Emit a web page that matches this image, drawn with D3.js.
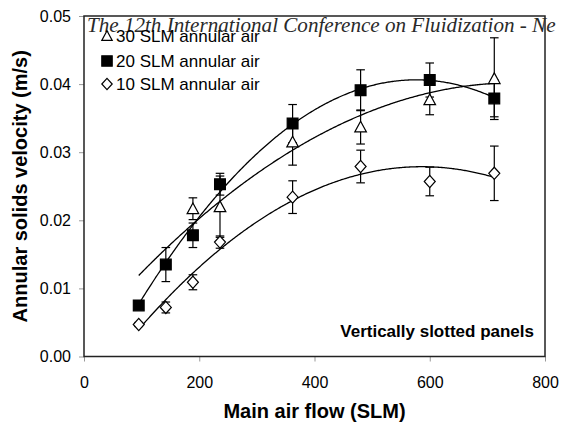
<!DOCTYPE html>
<html><head><meta charset="utf-8">
<script src="https://cdn.jsdelivr.net/npm/d3@7"></script>
<style>body{margin:0;background:#fff}svg{display:block}</style>
</head><body>
<svg id="c" width="561" height="423"></svg>
<script>
const flows = [95, 142, 189, 236, 362, 480, 600, 712];
const v30 = [null, null, 0.0217, 0.0220, 0.0315, 0.0337, 0.0377, 0.0408];
const e30 = [null, null, 0.0016, 0.0045, 0.0034, 0.0025, 0.0022, 0.0060];
const v20 = [0.0075, 0.0135, 0.0178, 0.0253, 0.0342, 0.0391, 0.0406, 0.0379];
const e20 = [0, 0.0025, 0.0018, 0.0016, 0.0028, 0.0030, 0.0025, 0.0027];
const v10 = [0.0047, 0.0072, 0.0109, 0.0168, 0.0234, 0.0279, 0.0257, 0.0269];
const e10 = [0.0003, 0.0008, 0.0011, 0.0009, 0.0024, 0.0024, 0.0021, 0.0040];
// quadratic trendline coefficients [a, b, c] : a + b x + c x^2
const trend30 = [0.003073, 9.921e-5, -6.63e-8];
const trend20 = [-0.006585, 1.6387e-4, -1.422e-7];
const trend10 = [-0.00613, 1.1603e-4, -9.899e-8];
const trendRange = [95, 712];
const xTicks = [0, 200, 400, 600, 800];
const yTicks = [0, 0.01, 0.02, 0.03, 0.04, 0.05];
const seriesNames = ["30 SLM annular air", "20 SLM annular air", "10 SLM annular air"];

const svg = d3.select("#c");
const L = 84, R = 545, T = 16, B = 356.5;
const x = d3.scaleLinear().domain([0, 800]).range([L, R]);
const y = d3.scaleLinear().domain([0, 0.05]).range([B, T]);

// axes
const ax = svg.append("g").attr("transform", `translate(0,${B})`)
  .call(d3.axisBottom(x).tickValues(xTicks).tickSize(5).tickPadding(15).tickFormat(d3.format("d")));
const ay = svg.append("g").attr("transform", `translate(${L},0)`)
  .call(d3.axisLeft(y).tickValues(yTicks).tickSize(5).tickPadding(8).tickFormat(d3.format(".2f")));
[ax, ay].forEach(g => {
  g.select(".domain").remove();
  g.selectAll("line").attr("stroke", "#999");
  g.selectAll("text").attr("font-family", "Liberation Sans, Arial, sans-serif").attr("font-size", 16).attr("fill", "#000");
});

const sym = {
  tri: (s) => `M0,${-s}L${s},${s*0.85}L${-s},${s*0.85}Z`,
  sq: (s) => `M${-s},${-s}H${s}V${s}H${-s}Z`,
  dia: (s) => `M0,${-s*1.1}L${s},0L0,${s*1.1}L${-s},0Z`
};

const series = [
  {v: v10, e: e10, t: trend10, m: "dia", fill: "#fff", s: 5.5},
  {v: v30, e: e30, t: trend30, m: "tri", fill: "#fff", s: 5.8},
  {v: v20, e: e20, t: trend20, m: "sq", fill: "#000", s: 5.4}
];

const line = d3.line().x(d => x(d[0])).y(d => y(d[1]));
const plot = svg.append("g");
series.forEach(sr => {
  const pts = d3.range(trendRange[0], trendRange[1] + 0.1, 2).map(xx => [xx, sr.t[0] + sr.t[1]*xx + sr.t[2]*xx*xx]);
  plot.append("path").attr("d", line(pts)).attr("fill", "none").attr("stroke", "#000").attr("stroke-width", 1.3);
});
series.forEach(sr => {
  flows.forEach((f, i) => {
    if (sr.v[i] == null || !sr.e[i]) return;
    const cx = x(f), y1 = y(sr.v[i] + sr.e[i]), y2 = y(sr.v[i] - sr.e[i]);
    plot.append("line").attr("x1", cx).attr("x2", cx).attr("y1", y1).attr("y2", y2).attr("stroke", "#000").attr("stroke-width", 1.2);
    [y1, y2].forEach(yy => plot.append("line").attr("x1", cx - 4.3).attr("x2", cx + 4.3).attr("y1", yy).attr("y2", yy).attr("stroke", "#000").attr("stroke-width", 1.2));
  });
});
series.forEach(sr => {
  flows.forEach((f, i) => {
    if (sr.v[i] == null) return;
    plot.append("path").attr("d", sym[sr.m](sr.s)).attr("transform", `translate(${x(f)},${y(sr.v[i])})`)
      .attr("fill", sr.fill).attr("stroke", "#000").attr("stroke-width", 1.2);
  });
});

// frame
svg.append("rect").attr("x", L).attr("y", T).attr("width", R - L).attr("height", B - T)
  .attr("fill", "none").attr("stroke", "#222").attr("stroke-width", 1.5);

// title overlay
svg.append("text").attr("x", 87).attr("y", 32).attr("font-family", "Liberation Serif, serif").attr("font-style", "italic")
  .attr("font-size", 21.1).attr("fill", "#2a2a2a").text("The 12th International Conference on Fluidization - Ne");

// legend
const legM = ["tri", "sq", "dia"], legF = ["#fff", "#000", "#fff"], legY = [36, 61, 84];
seriesNames.forEach((n, i) => {
  svg.append("path").attr("d", sym[legM[i]](5.2)).attr("transform", `translate(107,${legY[i]})`)
    .attr("fill", legF[i]).attr("stroke", "#000").attr("stroke-width", 1.2);
  svg.append("text").attr("x", 116).attr("y", legY[i] + 6).attr("font-family", "Liberation Sans, Arial, sans-serif")
    .attr("font-size", 17).attr("fill", "#000").text(n);
});

svg.append("text").attr("x", 534).attr("y", 337).attr("text-anchor", "end").attr("font-family", "Liberation Sans, Arial, sans-serif")
  .attr("font-weight", "bold").attr("font-size", 17).text("Vertically slotted panels");

svg.append("text").attr("x", (L + R) / 2).attr("y", 418).attr("text-anchor", "middle").attr("font-family", "Liberation Sans, Arial, sans-serif")
  .attr("font-weight", "bold").attr("font-size", 20).text("Main air flow (SLM)");
svg.append("text").attr("transform", `translate(27,${(T + B) / 2}) rotate(-90)`).attr("text-anchor", "middle").attr("font-family", "Liberation Sans, Arial, sans-serif")
  .attr("font-weight", "bold").attr("font-size", 20).text("Annular solids velocity (m/s)");
</script>
</body></html>
